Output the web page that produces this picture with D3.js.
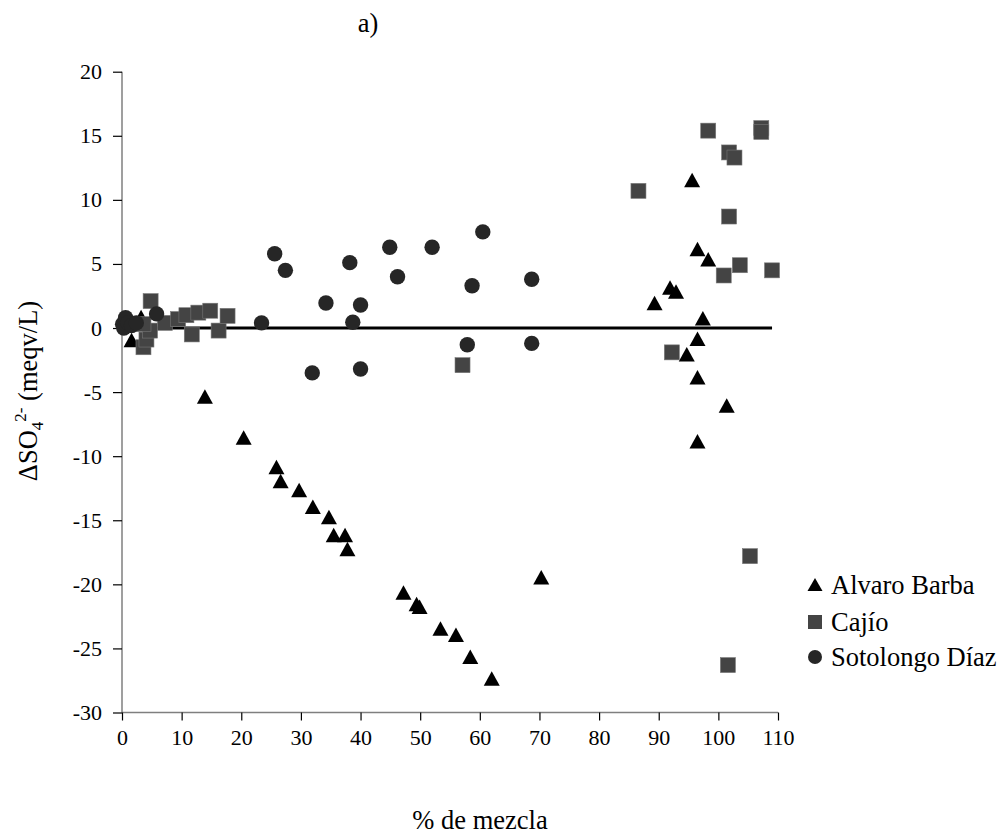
<!DOCTYPE html>
<html>
<head>
<meta charset="utf-8">
<script src="https://cdn.jsdelivr.net/npm/d3@7"></script>
<style>
html,body{margin:0;padding:0;background:#fff;}
svg{display:block;}
text{font-family:"Liberation Serif","Times New Roman",serif;fill:#000;}
</style>
</head>
<body>
<svg id="chart" width="1004" height="839" font-family="Liberation Serif"></svg>
<script>
// ---- data ----
const xTicks = [0,10,20,30,40,50,60,70,80,90,100,110];
const yTicks = [20,15,10,5,0,-5,-10,-15,-20,-25,-30];
const seriesNames = ["Alvaro Barba","Cajío","Sotolongo Díaz"];
const zeroLine = [[0,0],[109,0]];

const alvaroBarba = [
  [1.6,-1.0],[3.2,0.8],[13.9,-5.4],[20.4,-8.6],[25.9,-10.9],[26.6,-12.0],[29.7,-12.7],
  [32.0,-14.0],[34.7,-14.8],[35.5,-16.2],[37.4,-16.2],[37.8,-17.3],[47.2,-20.7],
  [49.4,-21.6],[49.9,-21.8],[53.4,-23.5],[56.0,-24.0],[58.4,-25.7],[62.0,-27.4],
  [70.3,-19.5],[89.3,1.9],[91.9,3.1],[92.9,2.8],[95.6,11.5],[96.5,6.1],[98.3,5.3],
  [97.4,0.7],[96.5,-0.9],[94.7,-2.1],[96.5,-3.9],[101.4,-6.1],[96.5,-8.9]
];
const cajio = [
  [3.6,-1.5],[4.1,-0.9],[4.7,-0.2],[4.8,2.1],[3.6,0.3],[7.2,0.4],[9.4,0.7],[10.8,1.0],
  [11.7,-0.5],[12.8,1.2],[14.8,1.35],[16.2,-0.2],[17.7,0.95],[57.1,-2.9],[86.6,10.7],
  [92.2,-1.9],[98.3,15.4],[101.8,13.7],[102.7,13.3],[107.2,15.6],[107.2,15.3],
  [101.8,8.7],[103.6,4.9],[100.9,4.1],[109.0,4.5],[105.3,-17.8],[101.6,-26.3]
];
const sotolongoDiaz = [
  [0.1,0.3],[0.3,0.0],[0.6,0.8],[1.0,0.4],[1.6,0.2],[2.4,0.4],[5.8,1.1],[23.4,0.4],
  [25.6,5.8],[27.4,4.5],[31.9,-3.5],[34.2,1.95],[38.2,5.1],[38.7,0.45],[40.0,1.8],
  [40.0,-3.2],[44.9,6.3],[46.2,4.0],[52.0,6.3],[57.9,-1.3],[58.7,3.3],[60.5,7.5],
  [68.7,3.8],[68.7,-1.2]
];

// ---- layout ----
const svg = d3.select("#chart");
const x = d3.scaleLinear().domain([0,110]).range([122,778]);
const y = d3.scaleLinear().domain([-30,20]).range([712.5,71.7]);

const axisColor = "#7f7f7f";
const tickFont = 22;
const labelFont = 26.5;
const fmt = d => String(d);

// title
svg.append("text").attr("x",368).attr("y",32).attr("text-anchor","middle")
  .attr("font-size",labelFont).text("a)");

// y axis
const gy = svg.append("g").attr("transform",`translate(${x(0)},0)`)
  .call(d3.axisLeft(y).tickValues(yTicks).tickSize(9).tickPadding(11).tickFormat(fmt));
gy.attr("font-family","Liberation Serif");
gy.selectAll("path").attr("stroke",axisColor).attr("stroke-width",1.5);
gy.selectAll("line").attr("stroke","#000").attr("stroke-width",1.2);
gy.selectAll("text").attr("font-size",tickFont).attr("fill","#000");
gy.select(".domain").attr("d",`M0,${y(20)}V${y(-30)}`);

// x axis
const gx = svg.append("g").attr("transform",`translate(0,${y(-30)})`)
  .call(d3.axisBottom(x).tickValues(xTicks).tickSize(8).tickPadding(9).tickFormat(fmt));
gx.attr("font-family","Liberation Serif");
gx.selectAll("path").attr("stroke",axisColor).attr("stroke-width",1.5);
gx.selectAll("line").attr("stroke","#000").attr("stroke-width",1.2);
gx.selectAll("text").attr("font-size",tickFont).attr("fill","#000");
gx.select(".domain").attr("d",`M${x(0)},0H${x(110)}`);

// axis titles
svg.append("text").attr("x",480).attr("y",829).attr("text-anchor","middle")
  .attr("font-size",labelFont).text("% de mezcla");

const yt = svg.append("text").attr("transform","translate(37,391) rotate(-90)")
  .attr("text-anchor","middle").attr("font-size",labelFont);
yt.append("tspan").text("ΔSO");
yt.append("tspan").attr("font-size",17).attr("dy",6).text("4");
yt.append("tspan").attr("font-size",17).attr("dy",-17).text("2-");
yt.append("tspan").attr("dy",11).text(" (meqv/L)");

// zero line
svg.append("path").datum(zeroLine)
  .attr("d",d3.line().x(d=>x(d[0])).y(d=>y(d[1])))
  .attr("stroke","#000").attr("stroke-width",3).attr("fill","none");

// markers
const triPath = "M0,-8L8,6.5L-8,6.5Z";
const plot = svg.append("g");
plot.selectAll(".tri").data(alvaroBarba).join("path").attr("class","tri")
  .attr("d",triPath).attr("transform",d=>`translate(${x(d[0])},${y(d[1])})`)
  .attr("fill","#000");
plot.selectAll(".sq").data(cajio).join("rect").attr("class","sq")
  .attr("x",d=>x(d[0])-7.5).attr("y",d=>y(d[1])-7.5).attr("width",15).attr("height",15)
  .attr("fill","#444").attr("stroke","#777").attr("stroke-width",0.6);
plot.selectAll(".ci").data(sotolongoDiaz).join("circle").attr("class","ci")
  .attr("cx",d=>x(d[0])).attr("cy",d=>y(d[1])).attr("r",7.7)
  .attr("fill","#262626");

// legend
const legY = [585,622,657];
const leg = svg.append("g");
seriesNames.forEach((name,i)=>{
  const cy = legY[i];
  if(i===0) leg.append("path").attr("d","M0,-7L7.5,6L-7.5,6Z").attr("transform",`translate(815,${cy})`).attr("fill","#000");
  if(i===1) leg.append("rect").attr("x",808).attr("y",cy-7).attr("width",14).attr("height",14).attr("fill","#444");
  if(i===2) leg.append("circle").attr("cx",815).attr("cy",cy).attr("r",7).attr("fill","#262626");
  leg.append("text").attr("x",831).attr("y",cy+9).attr("font-size",labelFont).text(name);
});
</script>
</body>
</html>
